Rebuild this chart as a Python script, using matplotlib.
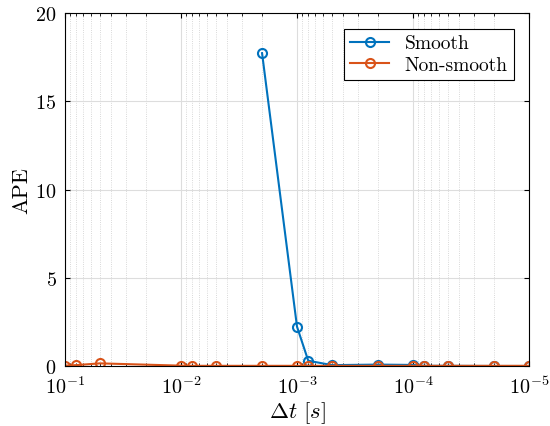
import matplotlib
matplotlib.use('Agg')
import matplotlib.pyplot as plt
import numpy as np

plt.rcParams['font.family'] = 'serif'
plt.rcParams['font.serif'] = ['cmr10']
plt.rcParams['mathtext.fontset'] = 'cm'
plt.rcParams['axes.formatter.use_mathtext'] = True

# time steps and errors
dt_smooth = [2e-3, 1e-3, 8e-4, 5e-4, 2e-4, 1e-4, 8e-5, 5e-5, 2e-5, 1e-5]
ape_smooth = [17.73, 2.23, 0.3, 0.05, 0.08, 0.06, 0.01, 0.01, 0.0, 0.0]

dt_nonsmooth = [1e-1, 8e-2, 5e-2, 1e-2, 8e-3, 5e-3, 2e-3, 1e-3, 8e-4, 5e-4,
                2e-4, 1e-4, 8e-5, 5e-5, 2e-5, 1e-5]
ape_nonsmooth = [0.02, 0.05, 0.15, 0.02, 0.01, 0.01, 0.01, 0.01, 0.01, 0.01,
                 0.01, 0.01, 0.01, 0.01, 0.01, 0.01]

fig = plt.figure(figsize=(5.5, 4.27), dpi=100)
ax = fig.add_axes([0.118, 0.1405, 0.844, 0.8265])

ax.semilogx(dt_smooth, ape_smooth, '-o', color='#0072BD', lw=1.5, ms=6.5,
            mfc='none', mew=1.5, label='Smooth')
ax.semilogx(dt_nonsmooth, ape_nonsmooth, '-o', color='#D95319', lw=1.5, ms=6.5,
            mfc='none', mew=1.5, label='Non-smooth')

ax.set_xlim(1e-1, 1e-5)
ax.set_ylim(0, 20)
ax.set_yticks([0, 5, 10, 15, 20])
ax.set_xticks([1e-1, 1e-2, 1e-3, 1e-4, 1e-5])

ax.grid(True, which='major', color='#dddddd', lw=0.8)
ax.grid(True, which='minor', color='#cccccc', lw=0.6, ls=':')
ax.set_axisbelow(True)
ax.tick_params(which='both', direction='in', top=True, right=True, labelsize=14.5)
ax.tick_params(axis='x', pad=7)
ax.tick_params(axis='y', pad=6)
ax.tick_params(which='minor', length=2)
for s in ax.spines.values():
    s.set_linewidth(0.8)

ax.set_xlabel(r'$\Delta t\ [s]$', fontsize=16.5, labelpad=1)
ax.set_ylabel('APE', fontsize=16, labelpad=3)

leg = ax.legend(loc='upper right', fontsize=14, fancybox=False, framealpha=1,
                edgecolor='black', handlelength=2, borderpad=0.3, labelspacing=0.2,
                borderaxespad=0.8)
leg.get_frame().set_linewidth(0.8)

fig.savefig('out.png', dpi=100)
